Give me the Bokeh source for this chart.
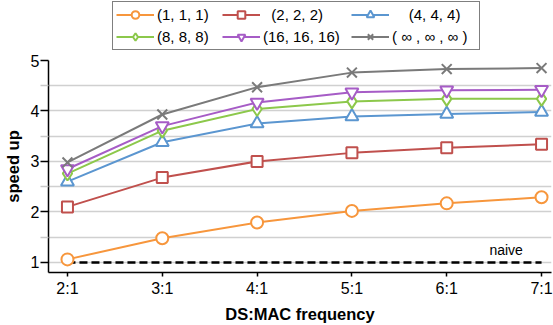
from bokeh.plotting import figure
from bokeh.layouts import column
from bokeh.models import FixedTicker, Legend, LegendItem, Range1d, CustomJSTickFormatter
from bokeh.core.properties import value
from bokeh.embed import file_html
from bokeh.resources import INLINE

categories = ["2:1", "3:1", "4:1", "5:1", "6:1", "7:1"]
xs = [2, 3, 4, 5, 6, 7]

s111 = [1.06, 1.48, 1.79, 2.02, 2.17, 2.29]
s222 = [2.10, 2.68, 3.00, 3.17, 3.27, 3.34]
s444 = [2.60, 3.38, 3.75, 3.89, 3.94, 3.98]
s888 = [2.76, 3.61, 4.04, 4.19, 4.24, 4.24]
s161616 = [2.85, 3.70, 4.17, 4.37, 4.41, 4.42]
sinf = [2.98, 3.93, 4.47, 4.76, 4.83, 4.85]

NB = "\u00a0"
series_labels = ["(1, 1, 1)", NB * 2 + "(2, 2, 2)", NB * 4 + "(4, 4, 4)",
                 "(8, 8, 8)", "(16, 16, 16)" + NB * 2, "( \u221e , \u221e , \u221e )" + NB * 2]
naive_y = 1.0

FONT = "Liberation Sans"

p = figure(width=553, height=273, output_backend="svg", toolbar_location=None,
           x_range=Range1d(1.8, 7.105), y_range=Range1d(0.8, 5.0),
           min_border_left=46, min_border_right=2, min_border_top=8, min_border_bottom=53)
p.outline_line_color = None
p.background_fill_color = "white"

# grid
p.xgrid.visible = False
p.ygrid.ticker = FixedTicker(ticks=[1, 1.5, 2, 2.5, 3, 3.5, 4, 4.5])
p.ygrid.grid_line_color = "#d0d0d0"
p.ygrid.grid_line_width = 1.5

# axes
p.xaxis.ticker = FixedTicker(ticks=xs)
p.xaxis.formatter = CustomJSTickFormatter(code="return tick + ':1';")
p.yaxis.ticker = FixedTicker(ticks=[1, 2, 3, 4, 5], minor_ticks=[1.5, 2.5, 3.5, 4.5])
for ax in (p.xaxis[0], p.yaxis[0]):
    ax.axis_line_color = "black"
    ax.axis_line_width = 1.5
    ax.major_tick_line_color = "black"
    ax.major_tick_line_width = 1.5
    ax.major_tick_in = 0
    ax.major_label_text_font = FONT
    ax.major_label_text_font_size = "16px"
    ax.major_label_text_color = "black"
    ax.axis_label_text_font = FONT
    ax.axis_label_text_font_size = "16.5px"
    ax.axis_label_text_font_style = "bold"
    ax.axis_label_text_color = "black"
p.xaxis.major_tick_out = 4
p.xaxis.minor_tick_line_color = None
p.xaxis.major_label_standoff = 3
p.xaxis.axis_label = "DS:MAC frequency"
p.xaxis.axis_label_standoff = 5
p.yaxis.major_tick_out = 8
p.yaxis.minor_tick_in = 0
p.yaxis.minor_tick_out = 8
p.yaxis.minor_tick_line_color = "#c8c8c8"
p.yaxis.minor_tick_line_width = 1.5
p.yaxis.major_label_standoff = 1
p.yaxis.axis_label = "speed up"
p.yaxis.axis_label_standoff = 6

# naive baseline
p.line([xs[0], xs[-1]], [naive_y, naive_y], line_color="black", line_width=2.5, line_dash="8 4")
p.text([6.45], [naive_y], text=["naive"], text_font=value(FONT), text_font_size="14px",
       text_baseline="bottom", text_align="left", y_offset=-4, text_color="black")

colors = ["#F7963C", "#C0504D", "#5B96D0", "#8CC84B", "#A65CC6", "#7A7A7A"]
markers = ["circle", "square", "triangle", "diamond", "inverted_triangle", "x"]
sizes = [12, 11, 13, 14, 13, 14]
data = [s111, s222, s444, s888, s161616, sinf]

# legend figure on top
lf = figure(width=553, height=52, output_backend="svg", toolbar_location=None,
            x_range=Range1d(0, 1), y_range=Range1d(0, 1),
            x_axis_type=None, y_axis_type=None,
            min_border_left=0, min_border_right=0, min_border_top=0, min_border_bottom=0)
lf.outline_line_color = None
lf.xgrid.visible = False
lf.ygrid.visible = False

items = []
for ys, c, m, sz, lab in zip(data, colors, markers, sizes, series_labels):
    p.line(xs, ys, line_color=c, line_width=2)
    p.scatter(xs, ys, marker=m, size=sz, line_color=c, line_width=2, fill_color="white")
    d1 = lf.line([-10, -9], [-10, -10], line_color=c, line_width=2)
    d2 = lf.scatter([-10], [-10], marker=m, size=sz, line_color=c, line_width=2, fill_color="white")
    items.append(LegendItem(label=lab, renderers=[d1, d2]))

# legend fills column by column: reorder so rows read (1,2,4) / (8,16,inf)
order = [0, 3, 1, 4, 2, 5]
legend = Legend(items=[items[i] for i in order], ncols=3, location=(64, 2))
legend.label_text_font = FONT
legend.label_text_font_size = "15px"
legend.label_text_color = "black"
legend.label_width = 62
legend.glyph_width = 38
legend.glyph_height = 19
legend.label_height = 19
legend.label_standoff = 3
legend.spacing = 3
legend.padding = 3
legend.margin = 0
legend.border_line_color = "black"
legend.border_line_width = 1.5
legend.background_fill_alpha = 1.0
lf.add_layout(legend, "center")

layout = column(lf, p, spacing=0)
open("out.html", "w").write(file_html(layout, INLINE))
